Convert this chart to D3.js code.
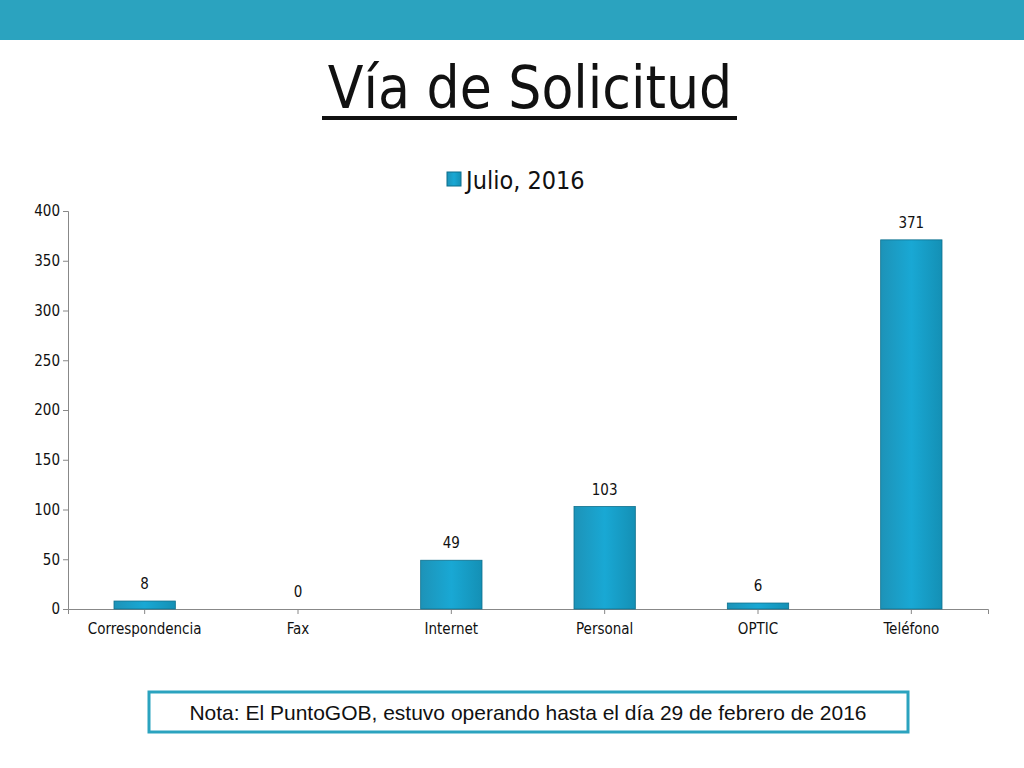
<!DOCTYPE html>
<html><head><meta charset="utf-8">
<script src="https://cdn.jsdelivr.net/npm/d3@7"></script>
<style>body{margin:0;background:#fff}</style>
</head><body>
<svg id="chart" width="1024" height="768"></svg>
<script>
var categories = ["Correspondencia","Fax","Internet","Personal","OPTIC","Teléfono"];
var values = [8,0,49,103,6,371];
var yTicks = [0,50,100,150,200,250,300,350,400];
var seriesName = "Julio, 2016";

var svg = d3.select("#chart");
var font = "'DejaVu Sans Condensed', 'DejaVu Sans', sans-serif";

// banda superior
svg.append("rect").attr("x",0).attr("y",0).attr("width",1024).attr("height",40).attr("fill","#2ba3bf");

// titulo
svg.append("text").attr("x",530).attr("y",108).attr("text-anchor","middle")
	.attr("font-family",font).attr("font-size",58).attr("fill","#111").text("Vía de Solicitud");
svg.append("rect").attr("x",322).attr("y",116).attr("width",415).attr("height",4).attr("fill","#111");

var grad = svg.append("defs").append("linearGradient").attr("id","bar").attr("x1","0").attr("x2","1");
grad.append("stop").attr("offset","0").attr("stop-color","#1d93b8");
grad.append("stop").attr("offset","0.5").attr("stop-color","#19a8d4");
grad.append("stop").attr("offset","1").attr("stop-color","#1490b5");

var x = d3.scaleBand().domain(categories).range([68,988]).paddingInner(0.6).paddingOuter(0.3);
var y = d3.scaleLinear().domain([0,400]).range([609,211]);

var gy = svg.append("g").attr("transform","translate(68,0)")
	.call(d3.axisLeft(y).tickValues(yTicks).tickSize(5));
var gx = svg.append("g").attr("transform","translate(0,609)")
	.call(d3.axisBottom(d3.scaleBand().domain(categories).range([68,988])).tickSize(5));
gx.selectAll("text").attr("dy","1.1em");
[gy,gx].forEach(function(g){
	g.selectAll("path,line").attr("stroke","#888");
	g.selectAll("text").attr("font-family",font).attr("font-size",15).attr("fill","#111");
});
gy.selectAll(".tick line").attr("x1",-5).attr("x2",0);

svg.selectAll(".bar").data(values).enter().append("rect")
	.attr("x",function(d,i){return x(categories[i]);})
	.attr("y",function(d){return y(d);})
	.attr("width",x.bandwidth())
	.attr("height",function(d){return 609-y(d);})
	.attr("fill","url(#bar)").attr("stroke","#0d6f8c").attr("stroke-width",0.8);

svg.selectAll(".lbl").data(values).enter().append("text")
	.attr("x",function(d,i){return x(categories[i])+x.bandwidth()/2;})
	.attr("y",function(d){return y(d)-12;})
	.attr("text-anchor","middle").attr("font-family",font).attr("font-size",15).attr("fill","#111")
	.text(function(d){return d;});

// leyenda
svg.append("rect").attr("x",447).attr("y",172).attr("width",14).attr("height",14)
	.attr("fill","url(#bar)").attr("stroke","#0d6f8c");
svg.append("text").attr("x",466).attr("y",189).attr("font-family",font).attr("font-size",25)
	.attr("fill","#111").text(seriesName);

// nota
svg.append("rect").attr("x",149).attr("y",692).attr("width",759).attr("height",40)
	.attr("fill","#fff").attr("stroke","#2ba3bf").attr("stroke-width",3);
svg.append("text").attr("x",528).attr("y",720).attr("text-anchor","middle")
	.attr("font-family","'Liberation Sans', Arial, sans-serif").attr("font-size",21).attr("fill","#111")
	.text("Nota: El PuntoGOB, estuvo operando hasta el día 29 de febrero de 2016");
</script>
</body></html>
